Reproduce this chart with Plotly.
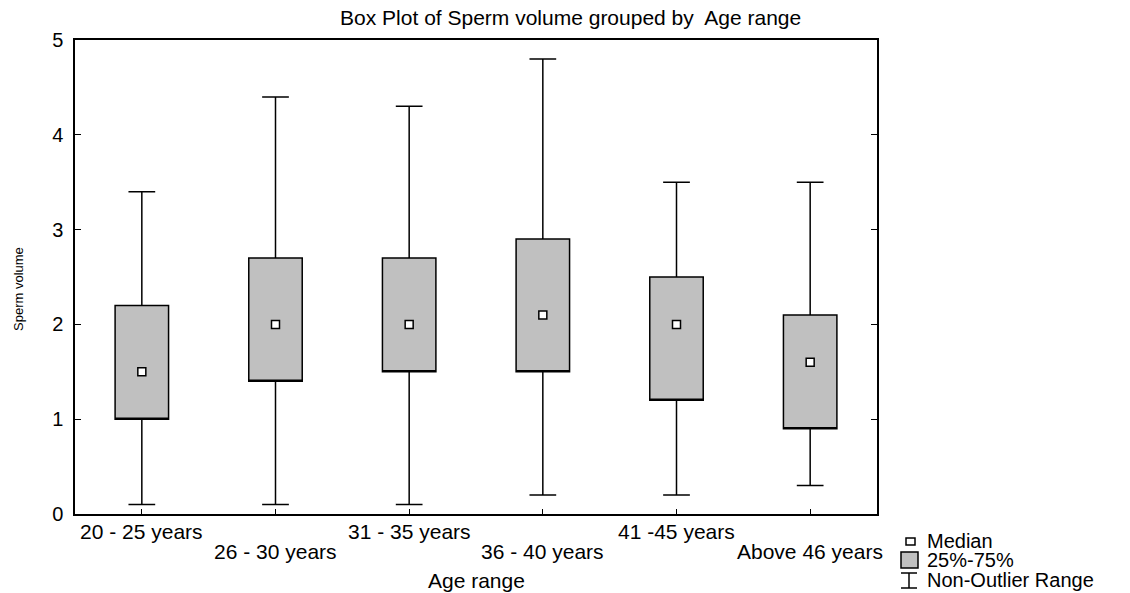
import plotly.graph_objects as go

# box plot data
age_ranges = ["20 - 25 years", "26 - 30 years", "31 - 35 years",
              "36 - 40 years", "41 -45 years", "Above 46 years"]
whisker_low = [0.1, 0.1, 0.1, 0.2, 0.2, 0.3]
q1 = [1.0, 1.4, 1.5, 1.5, 1.2, 0.9]
median = [1.5, 2.0, 2.0, 2.1, 2.0, 1.6]
q3 = [2.2, 2.7, 2.7, 2.9, 2.5, 2.1]
whisker_high = [3.4, 4.4, 4.3, 4.8, 3.5, 3.5]
y_ticks = [0, 1, 2, 3, 4, 5]

FONT = "Liberation Sans, Arial, sans-serif"

fig = go.Figure()

# boxes + whiskers; median line is hidden on the lower edge (drawn as a marker below)
fig.add_trace(go.Box(
    x=age_ranges, q1=q1, median=q1, q3=q3,
    lowerfence=whisker_low, upperfence=whisker_high,
    fillcolor="#c0c0c0", line=dict(color="black", width=1.5),
    width=0.4, whiskerwidth=0.5, boxpoints=False,
    showlegend=False, hoverinfo="skip",
))

fig.add_trace(go.Scatter(
    x=age_ranges, y=median, mode="markers",
    marker=dict(symbol="square", size=8, color="white",
                line=dict(color="black", width=1.5)),
    showlegend=False,
))

annotations = []
# category labels, staggered over two rows
for i, lab in enumerate(age_ranges):
    annotations.append(dict(
        x=lab, xref="x", y=0, yref="paper", yanchor="middle",
        yshift=-17 if i % 2 == 0 else -37, showarrow=False, text=lab,
        font=dict(size=21, color="black", family=FONT)))

annotations.append(dict(x=0.5, xref="paper", y=0, yref="paper", yanchor="middle",
                        yshift=-66, showarrow=False, text="Age range",
                        font=dict(size=21, color="black", family=FONT)))
annotations.append(dict(x=0, xref="paper", y=0.5, yref="paper", xanchor="center",
                        yanchor="middle", xshift=-57, yshift=-12, textangle=-90,
                        showarrow=False, text="Sperm volume",
                        font=dict(size=13, color="black", family=FONT)))

# hand-made legend below the right corner of the plot
legend_items = ["Median", "25%-75%", "Non-Outlier Range"]
for txt, dy in zip(legend_items, [-27, -46, -66]):
    annotations.append(dict(x=1, xref="paper", y=0, yref="paper", xanchor="left",
                            yanchor="middle", xshift=48, yshift=dy, showarrow=False,
                            text=txt, font=dict(size=20, color="black", family=FONT)))

def pxshape(kind, x0, x1, y0, y1, **kw):
    return dict(type=kind, xref="paper", yref="paper", xsizemode="pixel",
                ysizemode="pixel", xanchor=1, yanchor=0,
                x0=x0, x1=x1, y0=y0, y1=y1, **kw)

blk = dict(color="black", width=1.5)
shapes = [
    pxshape("rect", 29, 38, -24, -31, fillcolor="white", line=blk),
    pxshape("rect", 24, 41, -38, -54, fillcolor="#c0c0c0", line=blk),
    pxshape("line", 32, 32, -59, -74, line=blk),
    pxshape("line", 24, 40, -59, -59, line=blk),
    pxshape("line", 24, 40, -74, -74, line=blk),
]

fig.update_layout(
    width=1130, height=593,
    margin=dict(l=75, r=253, t=40, b=79),
    paper_bgcolor="white", plot_bgcolor="white",
    font=dict(family=FONT, color="black"),
    title=dict(text="Box Plot of Sperm volume grouped by  Age range",
               x=0.505, xref="container", xanchor="center",
               y=1 - 18 / 593, yanchor="middle",
               font=dict(size=21, color="black", family=FONT)),
    annotations=annotations,
    shapes=shapes,
)

fig.update_xaxes(type="category", range=[-0.5, 5.5], showgrid=False, zeroline=False,
                 showline=True, linecolor="black", linewidth=1.5, mirror=True,
                 ticks="inside", ticklen=5, tickcolor="black", showticklabels=False)
fig.update_yaxes(range=[0, 5], tickvals=y_ticks, showgrid=False, zeroline=False,
                 showline=True, linecolor="black", linewidth=1.5, mirror="ticks",
                 ticks="inside", ticklen=6, tickcolor="black", ticklabelstandoff=6,
                 tickfont=dict(size=20, color="black", family=FONT))

# drop the default 8px page margin so the figure sits at the window's corner
fig.write_html("out.html", config={"displayModeBar": False},
               post_script="document.body.style.margin='0';")
